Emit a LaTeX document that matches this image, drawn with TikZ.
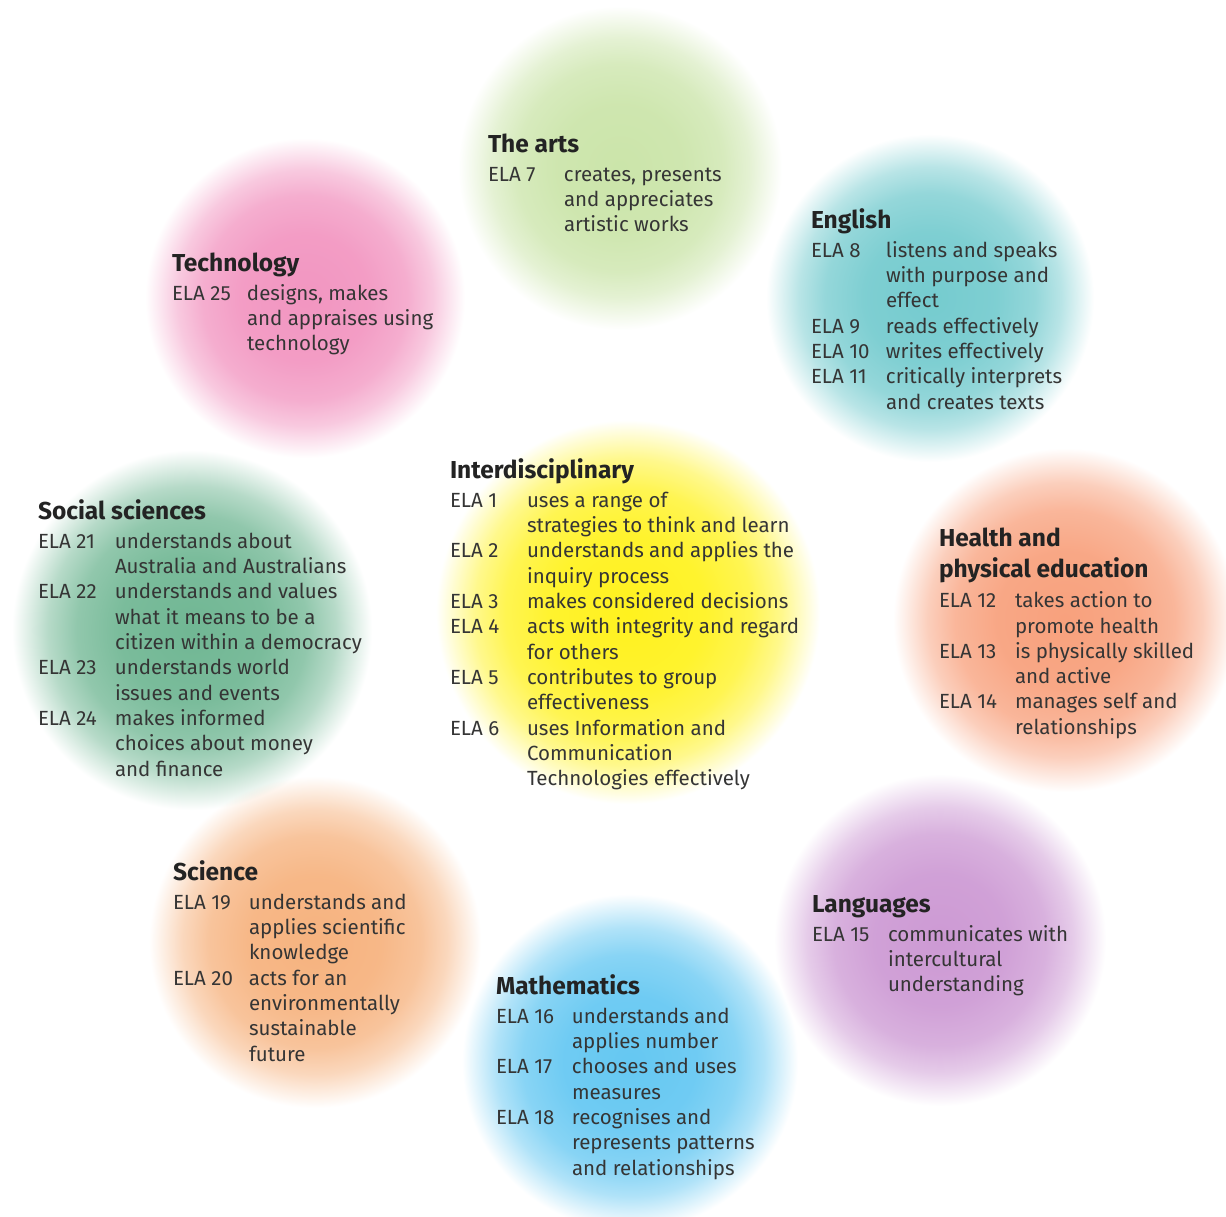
\documentclass[tikz,border=0pt]{standalone}
\usepackage{fontspec}
\setmainfont{Fira Sans}
\usepackage{array}
\definecolor{txt}{HTML}{353535}
\definecolor{hdc}{HTML}{232323}
\definecolor{cArts}{HTML}{C4E19E}
\definecolor{cEng}{HTML}{62C4C8}
\definecolor{cTech}{HTML}{F087B8}
\definecolor{cInter}{HTML}{FFF000}
\definecolor{cSoc}{HTML}{5DAD85}
\definecolor{cHealth}{HTML}{F7946B}
\definecolor{cSci}{HTML}{F5A86D}
\definecolor{cLang}{HTML}{C68CCE}
\definecolor{cMath}{HTML}{50C0F0}
\newcommand\blobshade[2]{\pgfdeclareradialshading{#1}{\pgfpoint{0bp}{0bp}}{color(0bp)=(#2!88!white); color(10bp)=(#2!82!white); color(16bp)=(#2!68!white); color(20bp)=(#2!45!white); color(23bp)=(#2!18!white); color(25bp)=(white); color(50bp)=(white)}}
\blobshade{shArts}{cArts}
\blobshade{shEng}{cEng}
\blobshade{shTech}{cTech}
\blobshade{shInter}{cInter}
\blobshade{shSoc}{cSoc}
\blobshade{shHealth}{cHealth}
\blobshade{shSci}{cSci}
\blobshade{shLang}{cLang}
\blobshade{shMath}{cMath}
\newcommand\hd[1]{\multicolumn{2}{@{}l@{}}{\fontsize{24.5}{26}\selectfont\bfseries\color{hdc}#1}}
\newenvironment{grp}[1]{\begin{tabular}[t]{@{}p{#1}@{}l@{}}}{\end{tabular}}
\tikzset{
  grptext/.style={anchor=base west, inner sep=0pt, outer sep=0pt, text=txt, font=\fontsize{20.5}{25.3}\selectfont},
}
\begin{document}
\begin{tikzpicture}[x=1pt,y=-1pt]
\useasboundingbox (0,0) rectangle (1226,1216);
\fill[white] (0,0) rectangle (1226,1216);
\begin{scope}[blend mode=multiply]
\shade[shading=shArts] (620,168) circle (162pt);
\shade[shading=shEng] (930,298) circle (164pt);
\shade[shading=shTech] (305,298) circle (160pt);
\shade[shading=shInter] (628,612) circle (192pt);
\shade[shading=shSoc] (192,630) circle (180pt);
\shade[shading=shHealth] (1065,620) circle (172pt);
\shade[shading=shSci] (315,942) circle (166pt);
\shade[shading=shLang] (940,940) circle (166pt);
\shade[shading=shMath] (630,1062) circle (168pt);
\end{scope}

\node[grptext] (arts) at (488,152) {\begin{grp}{76pt}
\hd{The arts}\\[4pt]
ELA 7 & creates, presents\\
 & and appreciates\\
 & artistic works
\end{grp}};

\node[grptext] (english) at (811,228) {\begin{grp}{75pt}
\hd{English}\\[4pt]
ELA 8 & listens and speaks\\
 & with purpose and\\
 & effect\\
ELA 9 & reads effectively\\
ELA 10 & writes effectively\\
ELA 11 & critically interprets\\
 & and creates texts
\end{grp}};

\node[grptext] (tech) at (172,271) {\begin{grp}{75pt}
\hd{Technology}\\[4pt]
ELA 25 & designs, makes\\
 & and appraises using\\
 & technology
\end{grp}};

\node[grptext] (inter) at (450,478) {\begin{grp}{77pt}
\hd{Interdisciplinary}\\[4pt]
ELA 1 & uses a range of\\
 & strategies to think and learn\\
ELA 2 & understands and applies the\\
 & inquiry process\\
ELA 3 & makes considered decisions\\
ELA 4 & acts with integrity and regard\\
 & for others\\
ELA 5 & contributes to group\\
 & effectiveness\\
ELA 6 & uses Information and\\
 & Communication\\
 & Technologies effectively
\end{grp}};

\node[grptext] (social) at (38,519) {\begin{grp}{77pt}
\hd{Social sciences}\\[4pt]
ELA 21 & understands about\\
 & Australia and Australians\\
ELA 22 & understands and values\\
 & what it means to be a\\
 & citizen within a democracy\\
ELA 23 & understands world\\
 & issues and events\\
ELA 24 & makes informed\\
 & choices about money\\
 & and finance
\end{grp}};

\node[grptext] (health) at (939,546) {\begin{grp}{76pt}
\hd{Health and}\\[4.5pt]
\hd{physical education}\\[4.5pt]
ELA 12 & takes action to\\
 & promote health\\
ELA 13 & is physically skilled\\
 & and active\\
ELA 14 & manages self and\\
 & relationships
\end{grp}};

\node[grptext] (science) at (173,880) {\begin{grp}{76pt}
\hd{Science}\\[4pt]
ELA 19 & understands and\\
 & applies scientific\\
 & knowledge\\
ELA 20 & acts for an\\
 & environmentally\\
 & sustainable\\
 & future
\end{grp}};

\node[grptext] (lang) at (812,912) {\begin{grp}{76pt}
\hd{Languages}\\[4pt]
ELA 15 & communicates with\\
 & intercultural\\
 & understanding
\end{grp}};

\node[grptext] (math) at (496,994) {\begin{grp}{76pt}
\hd{Mathematics}\\[4pt]
ELA 16 & understands and\\
 & applies number\\
ELA 17 & chooses and uses\\
 & measures\\
ELA 18 & recognises and\\
 & represents patterns\\
 & and relationships
\end{grp}};
\end{tikzpicture}
\end{document}
